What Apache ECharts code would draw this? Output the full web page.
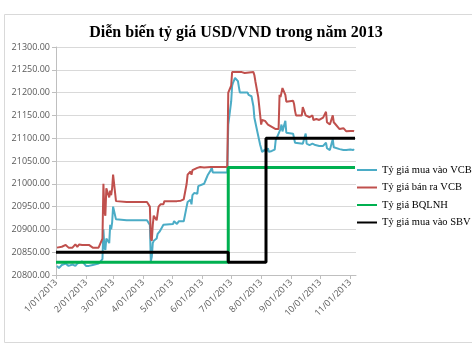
<!DOCTYPE html>
<html>
<head>
<meta charset="utf-8">
<script src="https://cdn.jsdelivr.net/npm/echarts@6/dist/echarts.min.js"></script>
<style>
  html, body { margin: 0; padding: 0; background: #fff; }
  #chart { width: 472px; height: 354px; }
</style>
</head>
<body>
<div id="chart"></div>
<script>
// date range of the axis (daily categories)
const startDay = Date.UTC(2013, 0, 1);
const endDay = Date.UTC(2013, 10, 7);

const seriesNames = ['Tỷ giá mua vào VCB', 'Tỷ giá bán ra VCB', 'Tỷ giá BQLNH', 'Tỷ giá mua vào SBV'];

// [month/day, rate]
const vcbBuy = [
  ['1/2', 20820], ['1/3', 20818], ['1/4', 20815], ['1/7', 20822], ['1/9', 20820], ['1/11', 20825],
  ['1/14', 20820], ['1/16', 20820], ['1/18', 20823], ['1/21', 20820], ['1/23', 20825], ['1/25', 20822],
  ['1/28', 20830], ['1/30', 20825], ['2/1', 20820], ['2/4', 20820], ['2/6', 20820], ['2/8', 20822],
  ['2/14', 20825], ['2/15', 20828], ['2/18', 20835], ['2/19', 20900], ['2/20', 20860], ['2/21', 20855],
  ['2/22', 20880], ['2/25', 20870], ['2/26', 20910], ['2/27', 20900], ['2/28', 20915], ['3/1', 20950],
  ['3/4', 20922], ['3/5', 20920], ['3/15', 20920], ['3/25', 20920], ['4/5', 20920], ['4/8', 20910],
  ['4/9', 20830], ['4/10', 20840], ['4/11', 20870], ['4/12', 20875], ['4/15', 20880], ['4/16', 20890],
  ['4/18', 20895], ['4/22', 20910], ['4/24', 20912], ['5/2', 20912], ['5/3', 20918], ['5/6', 20912],
  ['5/8', 20918], ['5/10', 20915], ['5/13', 20918], ['5/15', 20918], ['5/16', 20950], ['5/17', 20960],
  ['5/20', 20965], ['5/21', 20955], ['5/22', 20975], ['5/24', 20980], ['5/27', 20978], ['5/28', 20995],
  ['5/30', 20995], ['6/3', 21000], ['6/5', 21010], ['6/7', 21020], ['6/10', 21030], ['6/11', 21036],
  ['6/12', 21025], ['6/14', 21025], ['6/20', 21025], ['6/27', 21025], ['6/28', 21130], ['7/1', 21180],
  ['7/2', 21215], ['7/3', 21222], ['7/5', 21232], ['7/8', 21225], ['7/9', 21212], ['7/10', 21200],
  ['7/12', 21200], ['7/18', 21200], ['7/19', 21195], ['7/22', 21192], ['7/24', 21170], ['7/25', 21145],
  ['7/29', 21105], ['7/31', 21085], ['8/2', 21070], ['8/5', 21075], ['8/6', 21070], ['8/8', 21078],
  ['8/9', 21070], ['8/12', 21072], ['8/14', 21070], ['8/15', 21075], ['8/16', 21095], ['8/19', 21110],
  ['8/20', 21115], ['8/21', 21120], ['8/22', 21130], ['8/23', 21115], ['8/26', 21138], ['8/27', 21112],
  ['8/28', 21110], ['9/3', 21110], ['9/4', 21100], ['9/5', 21090], ['9/6', 21088], ['9/13', 21088],
  ['9/16', 21110], ['9/17', 21088], ['9/20', 21085], ['9/23', 21088], ['9/24', 21092], ['9/26', 21085],
  ['9/30', 21083], ['10/2', 21085], ['10/4', 21083], ['10/7', 21090], ['10/8', 21078], ['10/10', 21075],
  ['10/11', 21074], ['10/14', 21098], ['10/15', 21080], ['10/17', 21077], ['10/21', 21076], ['10/23', 21076],
  ['10/25', 21074], ['10/28', 21074], ['10/30', 21076], ['11/1', 21075], ['11/4', 21074], ['11/5', 21076]
];

const vcbSell = [
  ['1/2', 20860], ['1/4', 20858], ['1/7', 20862], ['1/9', 20860], ['1/11', 20866], ['1/14', 20860],
  ['1/16', 20862], ['1/18', 20860], ['1/21', 20867], ['1/23', 20862], ['1/25', 20867], ['1/28', 20866],
  ['1/30', 20866], ['2/1', 20866], ['2/4', 20866], ['2/6', 20866], ['2/8', 20860], ['2/14', 20860],
  ['2/15', 20865], ['2/18', 20880], ['2/19', 21000], ['2/20', 20940], ['2/21', 20930], ['2/22', 20990],
  ['2/25', 20970], ['2/26', 20985], ['2/27', 20975], ['2/28', 20990], ['3/1', 21020], ['3/4', 20962],
  ['3/5', 20960], ['3/15', 20960], ['3/25', 20960], ['4/5', 20960], ['4/8', 20950], ['4/9', 20880],
  ['4/10', 20875], ['4/11', 20910], ['4/12', 20930], ['4/15', 20920], ['4/16', 20935], ['4/17', 20950],
  ['4/19', 20955], ['4/22', 20955], ['4/23', 20962], ['4/24', 20962], ['5/2', 20962], ['5/3', 20965],
  ['5/6', 20962], ['5/8', 20965], ['5/10', 20963], ['5/13', 20966], ['5/15', 20966], ['5/16', 21000],
  ['5/17', 21020], ['5/20', 21027], ['5/21', 21020], ['5/22', 21030], ['5/24', 21030], ['5/27', 21035],
  ['5/28', 21032], ['5/29', 21032], ['5/30', 21037], ['6/3', 21036], ['6/10', 21037], ['6/20', 21037],
  ['6/27', 21037], ['6/28', 21200], ['7/1', 21215], ['7/2', 21245], ['7/8', 21245], ['7/12', 21245],
  ['7/15', 21243], ['7/16', 21240], ['7/17', 21245], ['7/24', 21245], ['7/25', 21238], ['7/26', 21225],
  ['7/29', 21190], ['7/31', 21150], ['8/1', 21130], ['8/2', 21140], ['8/5', 21138], ['8/6', 21135],
  ['8/8', 21130], ['8/12', 21125], ['8/14', 21122], ['8/16', 21120], ['8/19', 21120], ['8/20', 21195],
  ['8/21', 21190], ['8/22', 21200], ['8/23', 21210], ['8/26', 21195], ['8/27', 21180], ['8/28', 21182],
  ['9/3', 21182], ['9/4', 21175], ['9/5', 21160], ['9/6', 21150], ['9/12', 21150], ['9/13', 21168],
  ['9/16', 21150], ['9/18', 21148], ['9/20', 21146], ['9/23', 21150], ['9/24', 21140], ['9/27', 21142],
  ['9/30', 21140], ['10/2', 21140], ['10/4', 21145], ['10/7', 21158], ['10/8', 21135], ['10/10', 21132],
  ['10/11', 21130], ['10/14', 21150], ['10/15', 21135], ['10/17', 21130], ['10/21', 21120], ['10/23', 21118],
  ['10/25', 21122], ['10/28', 21115], ['10/30', 21118], ['11/1', 21116], ['11/4', 21116], ['11/5', 21115]
];

const interbankAvg = [
  ['1/1', 20828], ['6/28', 20828], ['6/28', 21036], ['11/6', 21036]
];

const sbvBuy = [
  ['1/1', 20850], ['6/28', 20850], ['6/28', 20828], ['8/6', 20828], ['8/6', 21100], ['11/6', 21100]
];

const colors = ['#4bacc6', '#c0504d', '#00b050', '#000000'];

function label(y, m, d) {
  return m + '/' + String(d).padStart(2, '0') + '/' + y;
}

const days = [];
for (let t = startDay; t <= endDay; t += 86400000) {
  const d = new Date(t);
  days.push(label(d.getUTCFullYear(), d.getUTCMonth() + 1, d.getUTCDate()));
}

function toPoints(arr) {
  return arr.map(([md, v]) => {
    const [m, d] = md.split('/').map(Number);
    return [label(2013, m, d), v];
  });
}

const isMonthStart = (i, v) => v.split('/')[1] === '01';

const chart = echarts.init(document.getElementById('chart'));

const series = [vcbBuy, vcbSell, interbankAvg, sbvBuy].map((arr, i) => ({
  name: seriesNames[i],
  type: 'line',
  data: toPoints(arr),
  symbol: 'none',
  lineStyle: { width: i >= 2 ? 3 : 2, color: colors[i] },
  itemStyle: { color: colors[i] }
}));

chart.setOption({
  animation: false,
  title: {
    text: 'Diễn biến tỷ giá USD/VND trong năm 2013',
    left: 'center',
    top: 20,
    textStyle: { fontFamily: 'Liberation Serif', fontWeight: 'bold', fontSize: 16, color: '#000' }
  },
  graphic: [{
    type: 'rect',
    left: 2, top: 12,
    shape: { width: 480, height: 328 },
    style: { fill: 'none', stroke: '#d9d9d9', lineWidth: 1 },
    silent: true
  }],
  grid: { left: 56, right: 116, top: 47, bottom: 79 },
  legend: {
    orient: 'vertical',
    left: 352,
    top: 159,
    icon: 'rect',
    itemWidth: 20,
    itemHeight: 2,
    itemGap: 5.5,
    textStyle: { fontFamily: 'Liberation Serif', fontSize: 10.5, color: '#000', lineHeight: 12 },
    data: seriesNames
  },
  xAxis: {
    type: 'category',
    data: days,
    boundaryGap: false,
    axisLine: { lineStyle: { color: '#bfbfbf' } },
    axisTick: { interval: isMonthStart, length: 4, lineStyle: { color: '#bfbfbf' } },
    axisLabel: {
      interval: isMonthStart,
      rotate: 45,
      margin: 6,
      fontFamily: 'Open Sans',
      fontSize: 9,
      color: '#595959'
    },
    splitLine: { show: false }
  },
  yAxis: {
    type: 'value',
    min: 20800,
    max: 21300,
    interval: 50,
    axisLine: { show: true, lineStyle: { color: '#bfbfbf' } },
    axisTick: { show: true, length: 4, lineStyle: { color: '#bfbfbf' } },
    axisLabel: {
      formatter: v => v.toFixed(2),
      margin: 6,
      fontFamily: 'Open Sans',
      fontSize: 9,
      color: '#595959'
    },
    splitLine: { lineStyle: { color: '#d9d9d9' } }
  },
  series
});
</script>
</body>
</html>
